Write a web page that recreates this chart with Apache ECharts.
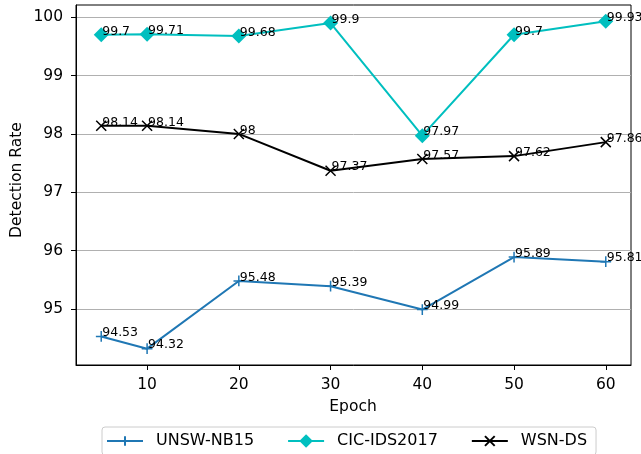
<!DOCTYPE html>
<html>
<head>
<meta charset="utf-8">
<script src="https://cdn.jsdelivr.net/npm/echarts@6/dist/echarts.min.js"></script>
<style>html,body{margin:0;padding:0;background:#fff;}#c{width:641px;height:454px;}</style>
</head>
<body>
<div id="c"></div>
<script>
const epochs = [5, 10, 20, 30, 40, 50, 60];
const unsw = [94.53, 94.32, 95.48, 95.39, 94.99, 95.89, 95.81];
const cic = [99.7, 99.71, 99.68, 99.9, 97.97, 99.7, 99.93];
const wsn = [98.14, 98.14, 98, 97.37, 97.57, 97.62, 97.86];
const xTicks = [10, 20, 30, 40, 50, 60];
const yTicks = [95, 96, 97, 98, 99, 100];

const FONT = 'DejaVu Sans';
const chart = echarts.init(document.getElementById('c'), null, {renderer: 'canvas'});

function pts(vals) { return epochs.map((e, i) => [e, vals[i]]); }
const labelCfg = {
  show: true, position: 'inside', align: 'left', verticalAlign: 'bottom',
  offset: [1, 3], color: '#000', fontFamily: FONT, fontSize: 12.5,
  formatter: p => String(p.value[1])
};
// invisible move-to points pad the bounding box so the strokes take ~70% of symbol size
const plusPath = 'path://M-2,-2M12,12M0,5L10,5M5,0L5,10';
const xPath = 'path://M-2,-2M12,12M0,0L10,10M10,0L0,10';

chart.setOption({
  animation: false,
  backgroundColor: '#fff',
  grid: {left: 76, right: 10, top: 5, bottom: 89, show: true, borderColor: '#000', borderWidth: 1, containLabel: false},
  xAxis: {
    type: 'value', min: 2.25, max: 62.75,
    axisLine: {show: true, lineStyle: {color: '#000', width: 1}},
    axisTick: {show: true, length: 5, customValues: xTicks, lineStyle: {color: '#000'}},
    axisLabel: {customValues: xTicks, fontFamily: FONT, fontSize: 15.5, color: '#000', margin: 12},
    splitLine: {show: false}
  },
  yAxis: {
    type: 'value', min: 94.04, max: 100.21, splitNumber: 6,
    axisLine: {show: true, lineStyle: {color: '#000', width: 1}},
    axisTick: {show: true, length: 5, customValues: yTicks, lineStyle: {color: '#000'}},
    axisLabel: {customValues: yTicks, fontFamily: FONT, fontSize: 15.5, color: '#000', margin: 13},
    splitLine: {show: true, lineStyle: {color: '#b0b0b0', width: 1}}
  },
  graphic: [
    {type: 'text', x: 353, y: 407, style: {text: 'Epoch', fontFamily: FONT, fontSize: 15.5, fill: '#000', align: 'center', verticalAlign: 'middle'}},
    {type: 'text', x: 17, y: 180, rotation: Math.PI / 2, style: {text: 'Detection Rate', fontFamily: FONT, fontSize: 15.5, fill: '#000', align: 'center', verticalAlign: 'middle'}}
  ],
  legend: {
    left: 102, top: 427, orient: 'horizontal',
    padding: [6, 9, 6, 4], itemGap: 33, itemWidth: 36, itemHeight: 17,
    borderColor: '#cccccc', borderWidth: 1, borderRadius: 3, backgroundColor: '#fff',
    textStyle: {fontFamily: FONT, fontSize: 16, color: '#000', padding: [0, 0, 0, 8]},
    data: ['UNSW-NB15', 'CIC-IDS2017', 'WSN-DS']
  },
  series: [
    {
      name: 'UNSW-NB15', type: 'line', data: pts(unsw),
      symbol: plusPath, symbolSize: 15,
      lineStyle: {color: '#1f77b4', width: 2},
      itemStyle: {color: '#1f77b4', borderColor: '#1f77b4', borderWidth: 1.5},
      label: labelCfg
    },
    {
      name: 'CIC-IDS2017', type: 'line', data: pts(cic),
      symbol: 'diamond', symbolSize: 15,
      lineStyle: {color: '#00bfbf', width: 2},
      itemStyle: {color: '#00bfbf', borderWidth: 0},
      label: labelCfg
    },
    {
      name: 'WSN-DS', type: 'line', data: pts(wsn),
      symbol: xPath, symbolSize: 14,
      lineStyle: {color: '#000', width: 2},
      itemStyle: {color: '#000', borderColor: '#000', borderWidth: 1.5},
      label: labelCfg
    }
  ]
});
</script>
</body>
</html>
